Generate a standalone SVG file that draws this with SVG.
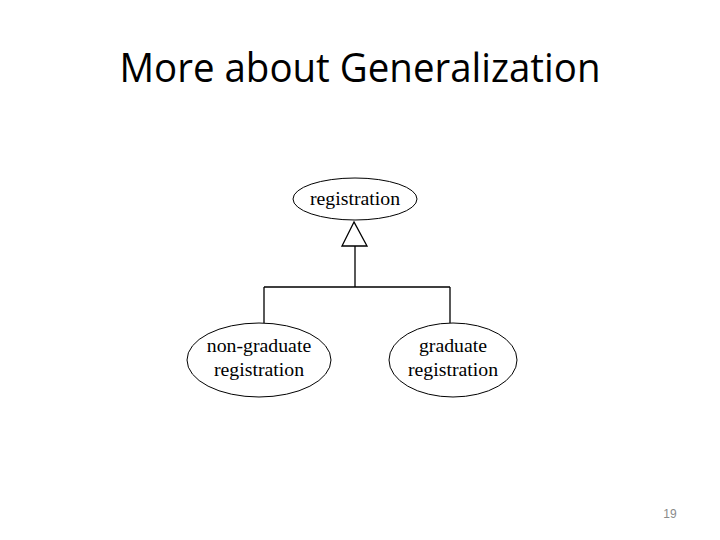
<svg xmlns="http://www.w3.org/2000/svg" width="720" height="540" viewBox="0 0 720 540">
<style>
.n{fill:#fff;stroke:#000;stroke-width:1}
.t{font-family:"Liberation Serif",serif;font-size:19.8px;fill:#000;text-anchor:middle}
.c{fill:none;stroke:#000;stroke-width:1.3}
</style>
<rect width="720" height="540" fill="#fff"/>
<text x="360" y="82" font-family="'Open Sans','Liberation Sans',sans-serif" font-size="40" text-anchor="middle" textLength="481" lengthAdjust="spacingAndGlyphs" fill="#000">More about Generalization</text>
<g id="connectors">
<path class="c" d="M355 246 V287 M264 287 H450 M264 287 V323 M450 287 V323"/>
<polygon points="354,222 342,246 367,246" fill="#fff" stroke="#000" stroke-width="1.3"/>
</g>
<g id="registration">
<ellipse class="n" cx="355" cy="199" rx="62" ry="21"/>
<text class="t" x="355" y="205">registration</text>
</g>
<g id="non-graduate">
<ellipse class="n" cx="259" cy="360" rx="72" ry="37"/>
<text class="t" x="259" y="352">non-graduate</text>
<text class="t" x="259" y="376">registration</text>
</g>
<g id="graduate">
<ellipse class="n" cx="453" cy="360" rx="64" ry="37"/>
<text class="t" x="453" y="352">graduate</text>
<text class="t" x="453" y="376">registration</text>
</g>
<text x="670" y="518" font-family="'Liberation Sans',sans-serif" font-size="12" fill="#8a8a8a" text-anchor="middle">19</text>
</svg>
